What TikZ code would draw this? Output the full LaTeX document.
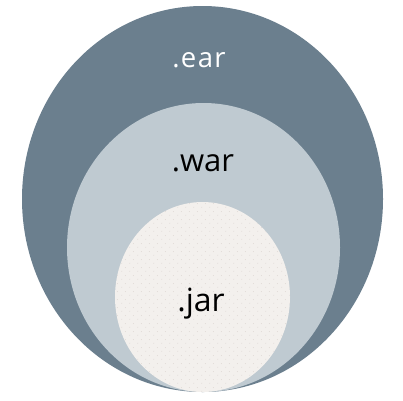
\documentclass[tikz,border=0pt]{standalone}
\usepackage{fontspec}
\setmainfont{Open Sans}
\usetikzlibrary{patterns.meta}
\definecolor{earcol}{HTML}{6B7F8E}
\definecolor{warcol}{HTML}{BFCAD1}
\definecolor{jarcol}{HTML}{F3F0ED}
\definecolor{dotcol}{HTML}{D8CFCB}
\tikzdeclarepattern{
  name=sparsedots,
  type=uncolored,
  bounding box={(0,0) and (8pt,8pt)},
  tile size={(8pt,8pt)},
  code={\fill (2pt,2pt) circle (0.5pt); \fill (6pt,6pt) circle (0.5pt);}
}
\tikzset{
  lbl/.style={anchor=base, inner sep=0pt}
}
\begin{document}
\begin{tikzpicture}[x=1pt,y=-1pt]
\useasboundingbox (0,0) rectangle (403,400);
\fill[white] (0,0) rectangle (403,400);
\fill[earcol] (202.5,199) ellipse [x radius=180.5, y radius=193];
\fill[warcol] (203.5,247.5) ellipse [x radius=136.5, y radius=144.5];
\fill[jarcol] (202.5,297) ellipse [x radius=87.5, y radius=95];
\fill[pattern={sparsedots}, pattern color=dotcol] (202.5,297) ellipse [x radius=87.5, y radius=95];
\node[lbl, text=white, font=\fontsize{27.5}{32}\selectfont\addfontfeature{LetterSpace=5}] (ear) at (199,67.5) {.ear};
\node[lbl, text=black, font=\fontsize{31}{36}\selectfont] (war) at (203,171) {.war};
\node[lbl, text=black, font=\fontsize{32}{38}\selectfont] (jar) at (201,311) {.jar};
\end{tikzpicture}
\end{document}
